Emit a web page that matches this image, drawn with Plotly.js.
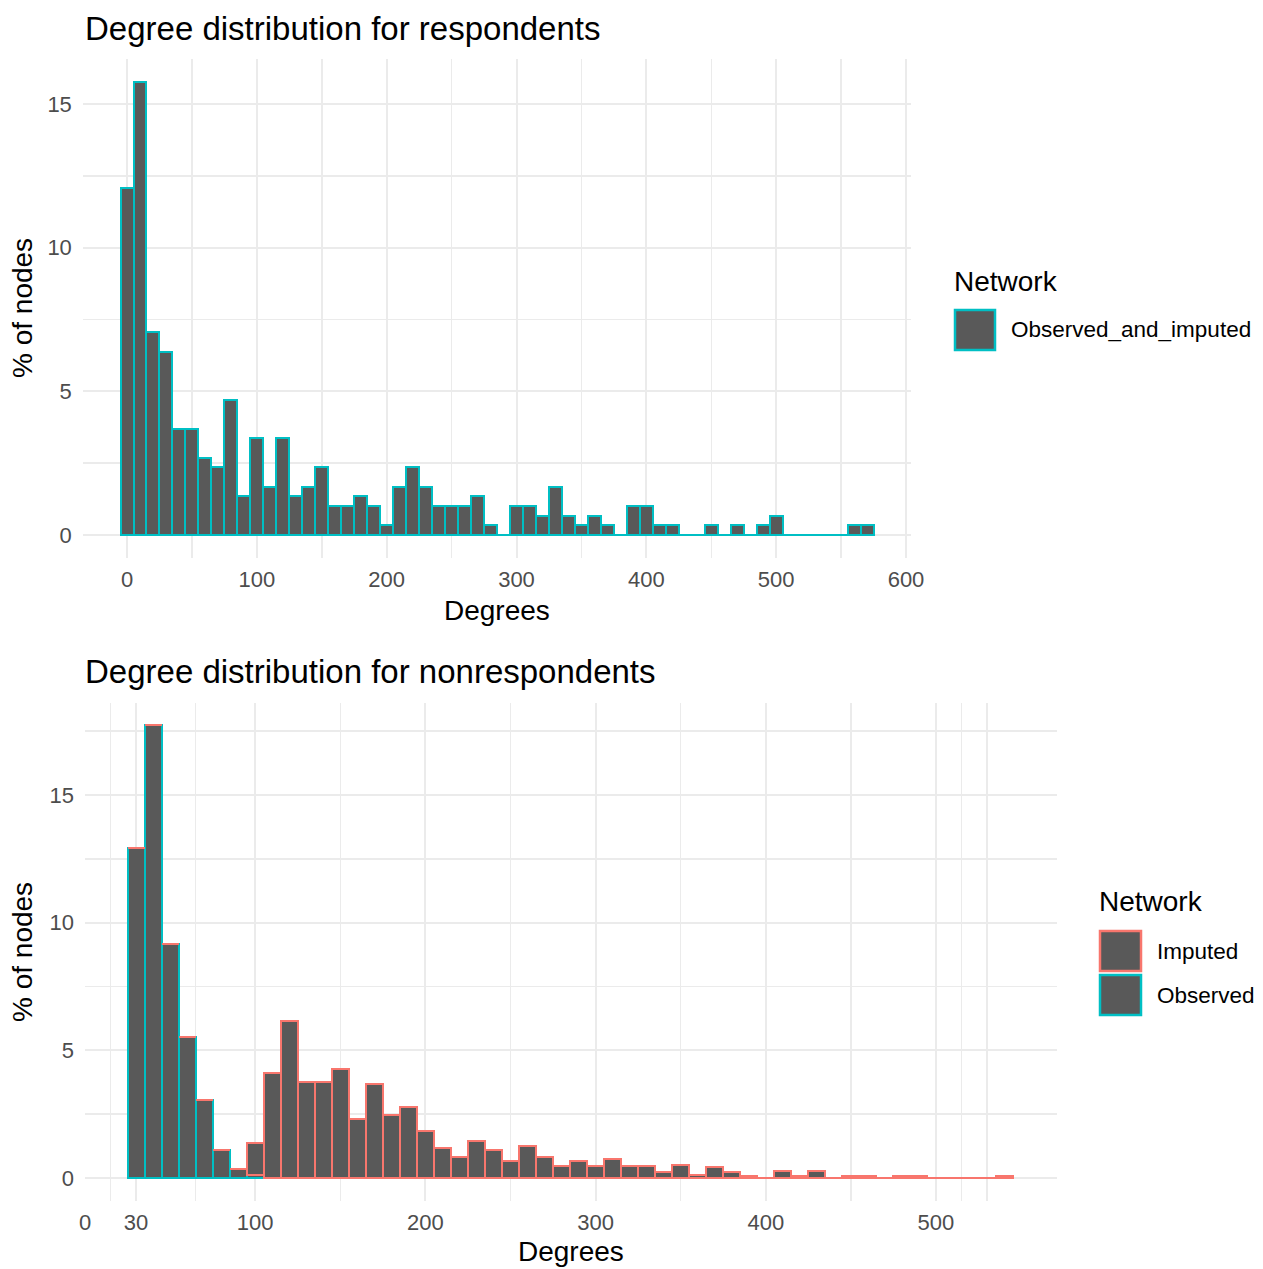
<!DOCTYPE html>
<html>
<head>
<meta charset="utf-8">
<script src="https://cdn.plot.ly/plotly-3.0.1.min.js"></script>
<style>html,body{margin:0;padding:0;background:#fff;}#chart{width:1263px;height:1269px;}</style>
</head>
<body>
<div id="chart"></div>
<script>
// ---- data: respondents (bin centres, % of nodes) ----
const respBins = [0,10,20,30,40,50,60,70,80,90,100,110,120,130,140,150,160,170,180,190,200,210,220,230,240,250,260,270,280,290,300,310,320,330,340,350,360,370,380,390,400,410,420,430,440,450,460,470,480,490,500,510,520,530,540,550,560,570];
const respPct = [12.08,15.77,7.05,6.38,3.69,3.69,2.68,2.35,4.70,1.34,3.36,1.68,3.36,1.34,1.68,2.35,1.01,1.01,1.34,1.01,0.34,1.68,2.35,1.68,1.01,1.01,1.01,1.34,0.34,0,1.01,1.01,0.67,1.68,0.67,0.34,0.67,0.34,0,1.01,1.01,0.34,0.34,0,0,0.34,0,0.34,0,0.34,0.67,0,0,0,0,0,0.34,0.34];

// ---- data: nonrespondents ----
const nonBins = [30,40,50,60,70,80,90,100,110,120,130,140,150,160,170,180,190,200,210,220,230,240,250,260,270,280,290,300,310,320,330,340,350,360,370,380,390,400,410,420,430,440,450,460,470,480,490,500,510,520,530,540];
const observedPct = [12.94,17.73,9.18,5.54,3.07,1.11,0.35,0.10,0,0,0,0,0,0,0,0,0,0,0,0,0,0,0,0,0,0,0,0,0,0,0,0,0,0,0,0,0,0,0,0,0,0,0,0,0,0,0,0,0,0,0,0];
const imputedPct = [0,0,0,0,0,0,0,1.28,4.11,6.14,3.75,3.75,4.25,2.29,3.67,2.47,2.79,1.85,1.18,0.84,1.45,1.10,0.68,1.27,0.84,0.47,0.68,0.47,0.74,0.48,0.48,0.22,0.52,0.12,0.42,0.22,0.09,0,0.26,0.09,0.28,0,0.09,0.09,0,0.09,0.09,0,0,0,0,0.09];

// ---- ticks ----
const respXTicks = [0,100,200,300,400,500,600];
const respXMinor = [50,150,250,350,450,550];
const respYTicks = [0,5,10,15];
const respYMinor = [2.5,7.5,12.5];
const nonXTicks = [0,30,100,200,300,400,500];
const nonXMinor = [15,65,150,250,350,450,515,530];
const nonYTicks = [0,5,10,15];
const nonYMinor = [2.5,7.5,12.5,17.5];

const W = 1263, H = 1269;
const px = v => v / W;
const py = v => 1 - v / H;

const FILL = '#595959', TEAL = '#00BFC4', SALMON = '#F8766D';
const FONT = 'Liberation Sans, Arial, Helvetica, sans-serif';
const GRID = '#EBEBEB';

const traces = [
  {type:'bar', x: respBins, y: respPct, width: 10, xaxis:'x', yaxis:'y',
   marker:{color: FILL, line:{color: TEAL, width: 2}}, showlegend:false, name:'Observed_and_imputed'},
  {type:'bar', x: nonBins, y: observedPct, width: 10, xaxis:'x2', yaxis:'y2',
   marker:{color: FILL, line:{color: TEAL, width: 2}}, showlegend:false, name:'Observed'},
  {type:'bar', x: nonBins, y: imputedPct, width: 10, xaxis:'x2', yaxis:'y2',
   marker:{color: FILL, line:{color: SALMON, width: 2}}, showlegend:false, name:'Imputed'}
];

function xAxis(domain, range, ticks, minor) {
  return {domain, range, tickmode:'array', tickvals: ticks, ticktext: ticks.map(String),
    showgrid:true, gridcolor: GRID, gridwidth: 2, zeroline:false, showline:false, ticks:'',
    ticklabelstandoff: 6, tickfont:{family: FONT, size: 22, color:'#4D4D4D'},
    minor:{tickmode:'array', tickvals: minor, showgrid:true, gridcolor: GRID, gridwidth: 1.5, ticks:''},
    fixedrange:true};
}
function yAxis(domain, range, ticks, minor, anchor) {
  return {domain, range, anchor, tickmode:'array', tickvals: ticks, ticktext: ticks.map(String),
    showgrid:true, gridcolor: GRID, gridwidth: 2, zeroline:false, showline:false, ticks:'',
    ticklabelstandoff: 10, tickfont:{family: FONT, size: 22, color:'#4D4D4D'},
    minor:{tickmode:'array', tickvals: minor, showgrid:true, gridcolor: GRID, gridwidth: 1.5, ticks:''},
    fixedrange:true};
}

const txt = (text, x, y, size, opts={}) => Object.assign({
  text, x: px(x), y: py(y), xref:'paper', yref:'paper', showarrow:false,
  xanchor:'left', yanchor:'middle', font:{family: FONT, size, color:'#000'}
}, opts);

const box = (x0, y0, x1, y1, line) => ({type:'rect', xref:'paper', yref:'paper',
  x0: px(x0), x1: px(x1), y0: py(y1), y1: py(y0), fillcolor: FILL, line:{color: line, width: 2.5}});

const layout = {
  width: W, height: H, margin:{l:0,r:0,t:0,b:0},
  paper_bgcolor:'#fff', plot_bgcolor:'#fff',
  barmode:'stack', bargap:0, showlegend:false,
  xaxis: xAxis([px(82.86), px(911.2)], [-34, 604], respXTicks, respXMinor),
  yaxis: yAxis([py(557.7), py(59.2)], [-0.79, 16.56], respYTicks, respYMinor, 'x'),
  xaxis2: Object.assign(xAxis([px(85), px(1056.8)], [0, 571], nonXTicks, nonXMinor), {anchor:'y2'}),
  yaxis2: yAxis([py(1200.6), py(702.6)], [-0.887, 18.62], nonYTicks, nonYMinor, 'x2'),
  annotations: [
    txt('Degree distribution for respondents', 83, 28, 33),
    txt('Degree distribution for nonrespondents', 83, 671, 33),
    txt('Degrees', 497, 611, 28, {xanchor:'center'}),
    txt('Degrees', 571, 1251, 28, {xanchor:'center'}),
    txt('% of nodes', 22, 308, 28, {xanchor:'center', textangle:-90}),
    txt('% of nodes', 22, 952, 28, {xanchor:'center', textangle:-90}),
    txt('Network', 952, 281, 28),
    txt('Observed_and_imputed', 1009, 330, 22.5),
    txt('Network', 1097, 901, 28),
    txt('Imputed', 1155, 951, 22.5),
    txt('Observed', 1155, 995, 22.5)
  ],
  shapes: [
    box(955, 310, 995, 350, TEAL),
    box(1100, 931, 1141, 971, SALMON),
    box(1100, 975, 1141, 1015, TEAL)
  ]
};

Plotly.newPlot('chart', traces, layout, {staticPlot:true, displayModeBar:false});
</script>
</body>
</html>
